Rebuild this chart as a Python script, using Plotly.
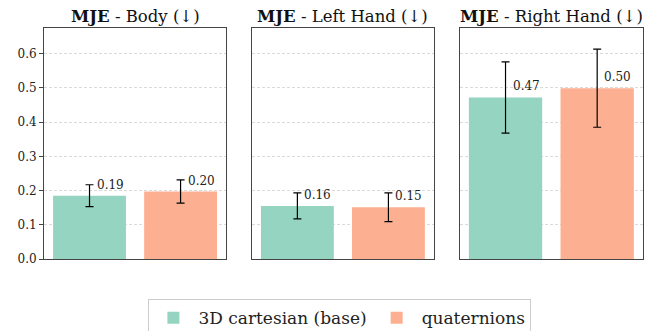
import plotly.graph_objects as go

panels = ["Body", "Left Hand", "Right Hand"]
series = ["3D cartesian (base)", "quaternions"]
base_vals = [0.185, 0.155, 0.472]
base_err = [0.032, 0.038, 0.104]
quat_vals = [0.197, 0.151, 0.499]
quat_err = [0.034, 0.042, 0.114]
base_labels = ["0.19", "0.16", "0.47"]
quat_labels = ["0.20", "0.15", "0.50"]
y_ticks = [0.0, 0.1, 0.2, 0.3, 0.4, 0.5, 0.6]

colors = ["#94d4c0", "#fdaf91"]
font_family = "DejaVu Serif"
domains = [[0, 0.304], [0.347, 0.651], [0.694, 1.0]]

fig = go.Figure()
for i, name in enumerate(panels):
    xa = "x" if i == 0 else f"x{i+1}"
    ya = "y" if i == 0 else f"y{i+1}"
    for j, (vals, errs, labs) in enumerate([(base_vals, base_err, base_labels),
                                             (quat_vals, quat_err, quat_labels)]):
        fig.add_trace(go.Bar(
            x=[j], y=[vals[i]], width=0.8,
            marker=dict(color=colors[j], line=dict(width=0)),
            error_y=dict(type="data", array=[errs[i]], color="black", thickness=1.2, width=4),
            name=series[j], showlegend=(i == 0), legendgroup=series[j],
            xaxis=xa, yaxis=ya,
        ))
        fig.add_annotation(x=j, y=vals[i], xref=xa, yref=ya, text=labs[i],
                           showarrow=False, xanchor="left", yanchor="bottom",
                           xshift=5, yshift=2,
                           font=dict(family=font_family, size=12, color="#222"))
    fig.add_annotation(x=sum(domains[i]) / 2, y=1.0, xref="paper", yref="paper",
                       text=f"<b>MJE</b> - {name} (↓)", showarrow=False,
                       xanchor="center", yanchor="bottom", yshift=0,
                       font=dict(family=font_family, size=16.5, color="#111"))
    axis_common = dict(showline=True, linecolor="#444", linewidth=1, mirror=True)
    fig.layout[f"xaxis{'' if i == 0 else i+1}"] = dict(
        domain=domains[i], range=[-0.5, 1.5], showticklabels=False, ticks="",
        showgrid=False, zeroline=False, anchor=ya, automargin=False, **axis_common)
    fig.layout[f"yaxis{'' if i == 0 else i+1}"] = dict(
        range=[0, 0.675], tickvals=y_ticks, ticktext=[f"{v:.1f}" for v in y_ticks],
        showticklabels=(i == 0), ticks="outside" if i == 0 else "", ticklen=4,
        tickcolor="#444", showgrid=True, gridcolor="#dadada", griddash="3px,2px",
        gridwidth=0.8, zeroline=False, anchor=xa, automargin=False,
        tickfont=dict(family=font_family, size=12, color="#222"), **axis_common)

fig.update_layout(
    width=667, height=331, barmode="group",
    margin=dict(l=36, r=32, t=20, b=80, autoexpand=False),
    plot_bgcolor="white", paper_bgcolor="white",
    font=dict(family=font_family, color="#222"),
    legend=dict(orientation="h", x=0.494, xanchor="center",
                yref="container", y=0.12, yanchor="top",
                bordercolor="#cccccc", borderwidth=1,
                font=dict(family=font_family, size=17, color="#222"),
                itemwidth=40, tracegroupgap=0),
)
fig.write_html("out.html")
